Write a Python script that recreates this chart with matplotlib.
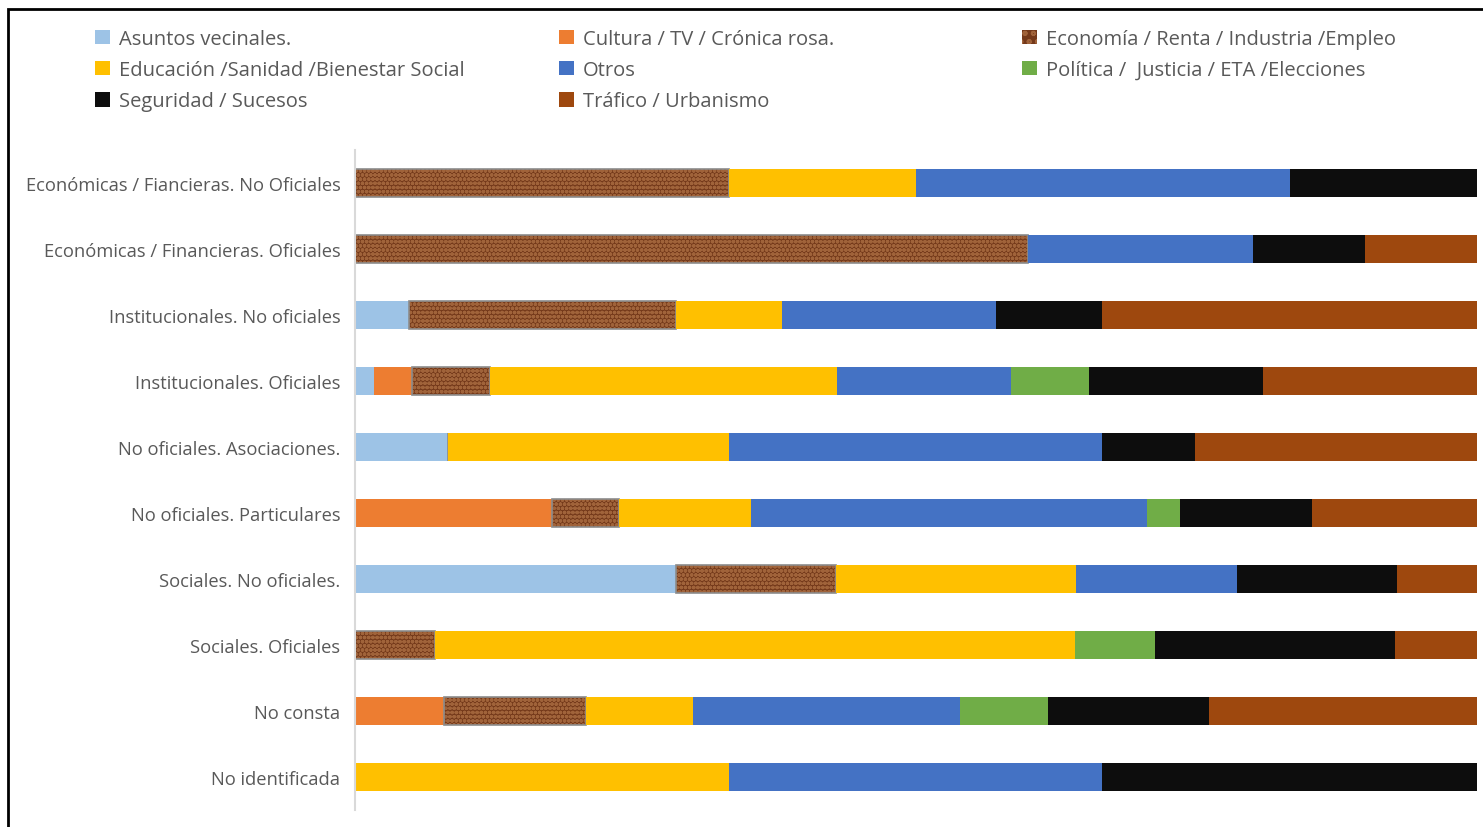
import numpy as np
import matplotlib
matplotlib.use("Agg")
import matplotlib.pyplot as plt
from matplotlib.patches import Rectangle, Patch

plt.rcParams['font.family'] = ['Open Sans', 'DejaVu Sans']
plt.rcParams['hatch.linewidth'] = 1.3

# categorias (de arriba abajo)
categorias = [
    "Económicas / Fiancieras. No Oficiales",
    "Económicas / Financieras. Oficiales",
    "Institucionales. No oficiales",
    "Institucionales. Oficiales",
    "No oficiales. Asociaciones.",
    "No oficiales. Particulares",
    "Sociales. No oficiales.",
    "Sociales. Oficiales",
    "No consta",
    "No identificada",
]

temas = [
    "Asuntos vecinales.",
    "Cultura / TV / Crónica rosa.",
    "Economía / Renta / Industria /Empleo",
    "Educación /Sanidad /Bienestar Social",
    "Otros",
    "Política /  Justicia / ETA /Elecciones",
    "Seguridad / Sucesos",
    "Tráfico / Urbanismo",
]

# porcentaje de cada tema por tipo de fuente
asuntos    = [0.0, 0.0, 4.8, 1.7, 8.3, 0.0, 28.6, 0.0, 0.0, 0.0]
cultura    = [0.0, 0.0, 0.0, 3.4, 0.0, 17.6, 0.0, 0.0, 7.9, 0.0]
economia   = [33.3, 60.0, 23.8, 6.9, 0.0, 5.9, 14.3, 7.1, 12.7, 0.0]
educacion  = [16.7, 0.0, 9.5, 31.0, 25.0, 11.8, 21.4, 57.1, 9.5, 33.3]
otros      = [33.3, 20.0, 19.0, 15.5, 33.3, 35.3, 14.3, 0.0, 23.8, 33.3]
politica   = [0.0, 0.0, 0.0, 6.9, 0.0, 2.9, 0.0, 7.1, 7.9, 0.0]
seguridad  = [16.7, 10.0, 9.5, 15.5, 8.3, 11.8, 14.3, 21.4, 14.3, 33.4]
trafico    = [0.0, 10.0, 33.4, 19.1, 25.1, 14.7, 7.1, 7.3, 23.9, 0.0]

series = [asuntos, cultura, economia, educacion, otros, politica, seguridad, trafico]
colores = ["#9DC3E6", "#ED7D31", "#74391A", "#FFC000",
           "#4472C4", "#70AD47", "#0D0D0D", "#9E480E"]
textura = "#A0633A"

fig = plt.figure(figsize=(14.83, 8.28), dpi=100)
ax = fig.add_axes([355 / 1483, 17 / 828, 1122 / 1483, 660 / 828])

y = np.arange(len(categorias))
left = np.zeros(len(categorias))
for i, (vals, col) in enumerate(zip(series, colores)):
    vals = np.array(vals)
    if i == 2:
        # relleno con textura tipo cuero
        ax.barh(y, vals, left=left, height=0.41, color=col,
                hatch="oooo", edgecolor=textura, linewidth=0)
        ax.barh(y, vals, left=left, height=0.41, fill=False,
                edgecolor="#8C8C8C", linewidth=1.2)
    else:
        ax.barh(y, vals, left=left, height=0.41, color=col, linewidth=0)
    left += vals

ax.set_xlim(0, 100)
ax.set_ylim(len(categorias) - 0.5, -0.5)
ax.set_yticks(y)
ax.set_yticklabels(categorias, fontsize=13.2, color="#595959")
ax.tick_params(axis='y', length=0, pad=10.5)
ax.set_xticks([])
for s in ["top", "right", "bottom"]:
    ax.spines[s].set_visible(False)
ax.spines["left"].set_color("#D9D9D9")
ax.spines["left"].set_linewidth(1.5)

# leyenda en tres columnas de igual ancho
handles = []
for t, c in zip(temas, colores):
    if t.startswith("Economía"):
        handles.append(Patch(facecolor=c, edgecolor=textura, hatch="oo", linewidth=0))
    else:
        handles.append(Patch(facecolor=c, linewidth=0))
columnas = [[0, 3, 6], [1, 4, 7], [2, 5]]
xcol = [95, 559, 1022]
for idx, x0 in zip(columnas, xcol):
    leg = fig.legend([handles[k] for k in idx], [temas[k] for k in idx],
                     loc="upper left", bbox_to_anchor=(x0 / 1483, 1 - 30 / 828),
                     frameon=False, fontsize=14.5, handlelength=0.75,
                     handleheight=0.75, handletextpad=0.45, labelspacing=0.55,
                     borderpad=0, borderaxespad=0, labelcolor="#595959")

# marco exterior
fig.patches.append(Rectangle((8 / 1483, -0.05), 1.1, 1.05 - 10 / 828,
                             transform=fig.transFigure, fill=False,
                             edgecolor="black", linewidth=2))

fig.savefig("out.png", dpi=100)
